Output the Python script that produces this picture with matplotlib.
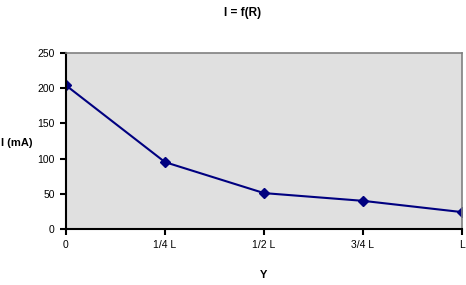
import matplotlib.pyplot as plt

positions = ['0', '1/4 L', '1/2 L', '3/4 L', 'L']
current_ma = [204, 95, 51, 40, 24]

plt.rcParams['font.family'] = ['Liberation Sans', 'DejaVu Sans']

fig = plt.figure(figsize=(4.66, 2.85), dpi=100)
ax = fig.add_axes([0.1416, 0.1965, 0.8498, 0.6175])
ax.set_facecolor('#e0e0e0')

x = range(len(positions))
ax.plot(x, current_ma, color='#000080', linewidth=1.5, marker='D', markersize=5)

ax.set_xlim(0, len(positions) - 1)
ax.set_ylim(0, 250)
ax.set_xticks(list(x))
ax.set_xticklabels(positions)
ax.set_yticks(range(0, 251, 50))
ax.tick_params(labelsize=7.5, length=4, width=1.5, colors='black', pad=4)

for side in ['left', 'bottom']:
    ax.spines[side].set_linewidth(1.5)
    ax.spines[side].set_color('black')
for side in ['top', 'right']:
    ax.spines[side].set_linewidth(1.2)
    ax.spines[side].set_color('#808080')

ax.set_xlabel('Y', fontsize=8, fontweight='bold', labelpad=14)
fig.text(0.003, 0.50, 'I (mA)', fontsize=8, fontweight='bold', va='center', ha='left')
fig.text(0.52, 0.975, 'I = f(R)', fontsize=8.5, fontweight='bold', va='top', ha='center')

fig.savefig('out.png', dpi=100)
